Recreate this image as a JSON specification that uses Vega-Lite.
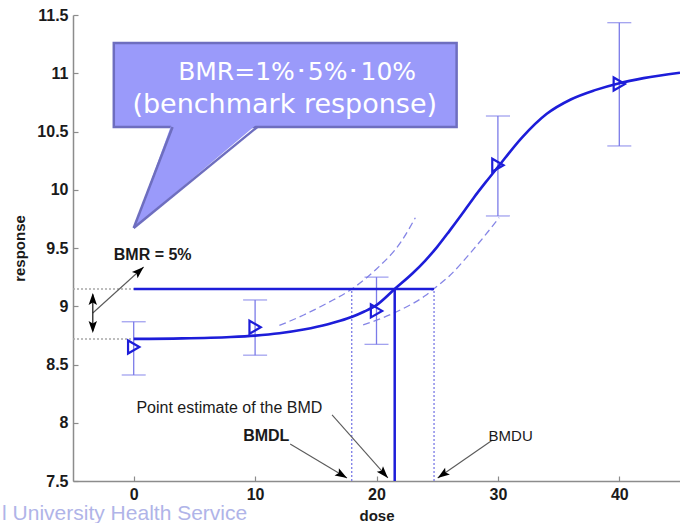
{
  "$schema": "https://vega.github.io/schema/vega-lite/v6.json",
  "width": 607,
  "height": 466,
  "autosize": {"type": "none"},
  "padding": {"left": 73, "top": 15, "right": 0, "bottom": 42},
  "background": "white",
  "config": {"view": {"stroke": null}, "font": "Liberation Sans"},
  "encoding": {
    "x": {
      "field": "x", "type": "quantitative",
      "scale": {"domain": [-5, 45], "nice": false, "zero": false},
      "axis": {
        "title": "dose", "values": [0, 10, 20, 30, 40], "grid": false,
        "domainColor": "#8c8c8c", "domainWidth": 1.5, "tickColor": "#8c8c8c", "tickWidth": 1.2, "tickSize": -5,
        "labelFont": "Liberation Sans", "labelFontSize": 16, "labelFontWeight": "bold", "labelColor": "#1a1a1a",
        "labelPadding": 10, "labelFlush": false, "labelOverlap": false,
        "titleFont": "Liberation Sans", "titleFontSize": 15, "titleFontWeight": "bold", "titleColor": "#1a1a1a",
        "titleBaseline": "alphabetic", "titleY": 39
      }
    },
    "y": {
      "field": "y", "type": "quantitative",
      "scale": {"domain": [7.5, 11.5], "nice": false, "zero": false},
      "axis": {
        "title": "response", "values": [7.5, 8, 8.5, 9, 9.5, 10, 10.5, 11, 11.5], "format": ".1~f", "grid": false,
        "domainColor": "#8c8c8c", "domainWidth": 1.5, "tickColor": "#8c8c8c", "tickWidth": 1.2, "tickSize": -5,
        "labelFont": "Liberation Sans", "labelFontSize": 16, "labelFontWeight": "bold", "labelColor": "#1a1a1a",
        "labelPadding": 10, "labelFlush": false, "labelOverlap": false,
        "titleFont": "Liberation Sans", "titleFontSize": 15, "titleFontWeight": "bold", "titleColor": "#1a1a1a",
        "titleAngle": -90, "titleX": -54, "titleY": 233, "titleBaseline": "middle", "titleAlign": "center"
      }
    }
  },
  "layer": [
    {
      "data": {"values": [{"x": -5, "x2": 0, "y": 9.148}, {"x": -5, "x2": 0, "y": 8.719}]},
      "mark": {"type": "rule", "color": "#a8a8a8", "strokeWidth": 1.5, "strokeDash": [2, 2]},
      "encoding": {"x2": {"field": "x2"}}
    },
    {
      "data": {"values": [
        {"band": "upper", "x": 12, "y": 8.835}, {"band": "upper", "x": 14, "y": 8.925}, {"band": "upper", "x": 16, "y": 9.03},
        {"band": "upper", "x": 18, "y": 9.15}, {"band": "upper", "x": 20, "y": 9.32}, {"band": "upper", "x": 22, "y": 9.55},
        {"band": "upper", "x": 23.2, "y": 9.76},
        {"band": "lower", "x": 18.9, "y": 8.84}, {"band": "lower", "x": 20, "y": 8.88}, {"band": "lower", "x": 22, "y": 8.97},
        {"band": "lower", "x": 24, "y": 9.09}, {"band": "lower", "x": 24.7, "y": 9.148}, {"band": "lower", "x": 26, "y": 9.26},
        {"band": "lower", "x": 28, "y": 9.49}, {"band": "lower", "x": 30.1, "y": 9.76}
      ]},
      "mark": {"type": "line", "color": "#8585e6", "strokeWidth": 1.3, "strokeDash": [7, 4], "interpolate": "monotone"},
      "encoding": {"detail": {"field": "band"}}
    },
    {
      "data": {"values": [{"x": 17.96, "y": 7.5, "y2": 9.148}, {"x": 24.74, "y": 7.5, "y2": 9.148}]},
      "mark": {"type": "rule", "color": "#7a7ae6", "strokeWidth": 1.3, "strokeDash": [2, 2]},
      "encoding": {"y2": {"field": "y2"}}
    },
    {
      "data": {"values": [
        {"x": 0, "y": 8.41, "y2": 8.867}, {"x": 10, "y": 8.58, "y2": 9.054}, {"x": 20, "y": 8.673, "y2": 9.25},
        {"x": 30, "y": 9.775, "y2": 10.633}, {"x": 40, "y": 10.376, "y2": 11.434}
      ]},
      "mark": {"type": "rule", "color": "#7b7be8", "strokeWidth": 1.3},
      "encoding": {"y2": {"field": "y2"}}
    },
    {
      "data": {"values": [
        {"x": 0, "y": 8.41}, {"x": 0, "y": 8.867}, {"x": 10, "y": 8.58}, {"x": 10, "y": 9.054}, {"x": 20, "y": 8.673},
        {"x": 20, "y": 9.25}, {"x": 30, "y": 9.775}, {"x": 30, "y": 10.633}, {"x": 40, "y": 10.376}, {"x": 40, "y": 11.434}
      ]},
      "mark": {"type": "tick", "orient": "horizontal", "size": 24, "thickness": 1.3, "color": "#7b7be8"}
    },
    {
      "data": {"values": [
        {"x": 0, "y": 8.72}, {"x": 4, "y": 8.724}, {"x": 8, "y": 8.736}, {"x": 10, "y": 8.748}, {"x": 12, "y": 8.768},
        {"x": 14, "y": 8.8}, {"x": 16, "y": 8.845}, {"x": 17, "y": 8.875}, {"x": 18, "y": 8.91}, {"x": 19, "y": 8.955},
        {"x": 20, "y": 9.01}, {"x": 21.5, "y": 9.148}, {"x": 23, "y": 9.285}, {"x": 24, "y": 9.39}, {"x": 25, "y": 9.51},
        {"x": 26, "y": 9.645}, {"x": 27, "y": 9.785}, {"x": 28, "y": 9.93}, {"x": 29, "y": 10.065}, {"x": 30, "y": 10.195},
        {"x": 32, "y": 10.45}, {"x": 34, "y": 10.65}, {"x": 36, "y": 10.775}, {"x": 38, "y": 10.855}, {"x": 40, "y": 10.915},
        {"x": 42, "y": 10.958}, {"x": 45, "y": 11.005}
      ]},
      "mark": {"type": "line", "color": "#1d1dd9", "strokeWidth": 2.6, "interpolate": "monotone"}
    },
    {
      "data": {"values": [{"x": 0, "x2": 24.74, "y": 9.148}]},
      "mark": {"type": "rule", "color": "#1d1dd9", "strokeWidth": 2.5},
      "encoding": {"x2": {"field": "x2"}}
    },
    {
      "data": {"values": [{"x": 21.5, "y": 7.5, "y2": 9.148}]},
      "mark": {"type": "rule", "color": "#1d1dd9", "strokeWidth": 2.5},
      "encoding": {"y2": {"field": "y2"}}
    },
    {
      "data": {"values": [
        {"x": 0, "y": 8.65}, {"x": 10, "y": 8.82}, {"x": 20, "y": 8.96}, {"x": 30, "y": 10.21}, {"x": 40, "y": 10.908}
      ]},
      "mark": {"type": "point", "shape": "triangle-right", "filled": false, "color": "#1d1dd9", "strokeWidth": 2.2, "size": 170, "opacity": 1}
    },
    {
      "data": {"values": [
        {"x": -3.37, "y": 8.942, "x2": 0.82, "y2": 9.337},
        {"x": 12.89, "y": 7.818, "x2": 17.57, "y2": 7.526},
        {"x": 16.34, "y": 8.067, "x2": 20.94, "y2": 7.526},
        {"x": 29.56, "y": 7.852, "x2": 25.04, "y2": 7.526}
      ]},
      "mark": {"type": "rule", "color": "#5a5a5a", "strokeWidth": 1.1},
      "encoding": {"x2": {"field": "x2"}, "y2": {"field": "y2"}}
    },
    {
      "data": {"values": [{"x": -3.37, "y": 8.79, "y2": 9.1}]},
      "mark": {"type": "rule", "color": "#222222", "strokeWidth": 1.3},
      "encoding": {"y2": {"field": "y2"}}
    },
    {
      "data": {"values": [{"x": 0.82, "y": 9.337}]},
      "mark": {"type": "point", "shape": "M0,0L-0.7,2L0,1.6L0.7,2Z", "filled": true, "color": "#000000", "opacity": 1, "size": 144, "angle": 48}
    },
    {
      "data": {"values": [{"x": -3.37, "y": 9.114}]},
      "mark": {"type": "point", "shape": "M0,0L-0.7,2L0,1.6L0.7,2Z", "filled": true, "color": "#000000", "opacity": 1, "size": 144, "angle": 0}
    },
    {
      "data": {"values": [{"x": -3.37, "y": 8.77}]},
      "mark": {"type": "point", "shape": "M0,0L-0.7,2L0,1.6L0.7,2Z", "filled": true, "color": "#000000", "opacity": 1, "size": 144, "angle": 180}
    },
    {
      "data": {"values": [{"x": 17.57, "y": 7.526}]},
      "mark": {"type": "point", "shape": "M0,0L-0.7,2L0,1.6L0.7,2Z", "filled": true, "color": "#000000", "opacity": 1, "size": 144, "angle": 121}
    },
    {
      "data": {"values": [{"x": 20.94, "y": 7.526}]},
      "mark": {"type": "point", "shape": "M0,0L-0.7,2L0,1.6L0.7,2Z", "filled": true, "color": "#000000", "opacity": 1, "size": 144, "angle": 138}
    },
    {
      "data": {"values": [{"x": 25.04, "y": 7.526}]},
      "mark": {"type": "point", "shape": "M0,0L-0.7,2L0,1.6L0.7,2Z", "filled": true, "color": "#000000", "opacity": 1, "size": 144, "angle": 235}
    },
    {
      "data": {"values": [{"x": -1.64, "y": 9.44, "t": "BMR = 5%"}]},
      "mark": {"type": "text", "align": "left", "baseline": "middle", "font": "Liberation Sans", "fontSize": 16, "fontWeight": "bold", "color": "#1a1a1a"},
      "encoding": {"text": {"field": "t"}}
    },
    {
      "data": {"values": [{"x": 7.88, "y": 8.127, "t": "Point estimate of the BMD"}]},
      "mark": {"type": "text", "align": "center", "baseline": "middle", "font": "Liberation Sans", "fontSize": 16, "color": "#1a1a1a"},
      "encoding": {"text": {"field": "t"}}
    },
    {
      "data": {"values": [{"x": 31.05, "y": 7.886, "t": "BMDU"}]},
      "mark": {"type": "text", "align": "center", "baseline": "middle", "font": "Liberation Sans", "fontSize": 15, "color": "#1a1a1a"},
      "encoding": {"text": {"field": "t"}}
    },
    {
      "data": {"values": [{"x": 10.92, "y": 7.886, "t": "BMDL"}]},
      "mark": {"type": "text", "align": "center", "baseline": "middle", "font": "Liberation Sans", "fontSize": 16, "fontWeight": "bold", "color": "#1a1a1a"},
      "encoding": {"text": {"field": "t"}}
    },
    {
      "data": {"values": [{"x": -1.64, "x2": 26.6, "y": 11.26, "y2": 10.539}]},
      "mark": {"type": "rect", "fill": "#9a9afa", "stroke": "#6e6ebf", "strokeWidth": 2.5, "opacity": 1},
      "encoding": {"x2": {"field": "x2"}, "y2": {"field": "y2"}}
    },
    {
      "data": {"values": [{"y": 10.57, "x": 3.15, "x2": 10.23}, {"y": 9.672, "x": 0, "x2": 0}]},
      "mark": {"type": "area", "orient": "horizontal", "fill": "#9a9afa", "opacity": 1},
      "encoding": {"x2": {"field": "x2"}}
    },
    {
      "data": {"values": [{"x": 3.2, "y": 10.539, "x2": 0, "y2": 9.672}, {"x": 10.18, "y": 10.539, "x2": 0, "y2": 9.672}]},
      "mark": {"type": "rule", "color": "#6e6ebf", "strokeWidth": 2.5},
      "encoding": {"x2": {"field": "x2"}, "y2": {"field": "y2"}}
    },
    {
      "data": {"values": [{"x": 13.46, "y": 11.01, "t": "BMR=1%･5%･10%"}]},
      "mark": {"type": "text", "align": "center", "baseline": "middle", "font": "DejaVu Sans", "fontSize": 25, "color": "#ffffff"},
      "encoding": {"text": {"field": "t"}}
    },
    {
      "data": {"values": [{"x": 12.44, "y": 10.727, "t": "(benchmark response)"}]},
      "mark": {"type": "text", "align": "center", "baseline": "middle", "font": "DejaVu Sans", "fontSize": 27, "color": "#ffffff"},
      "encoding": {"text": {"field": "t"}}
    },
    {
      "data": {"values": [{"x": -10.84, "y": 7.165, "t": "l University Health Service"}]},
      "mark": {"type": "text", "align": "left", "baseline": "alphabetic", "font": "Liberation Sans", "fontSize": 21, "color": "#b0b4e8"},
      "encoding": {"text": {"field": "t"}}
    }
  ]
}
